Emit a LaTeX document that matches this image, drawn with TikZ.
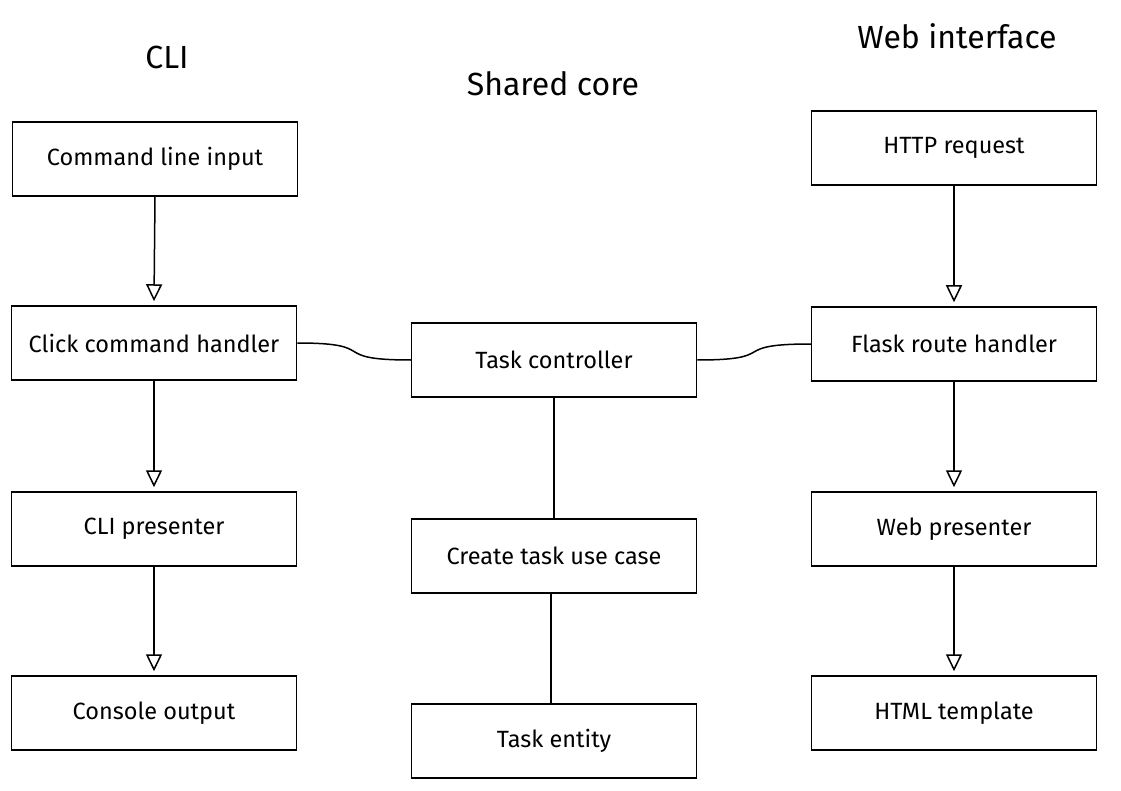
\documentclass[tikz,border=0pt]{standalone}
\usepackage{fontspec}
\setmainfont{Fira Sans}
\usetikzlibrary{arrows.meta}
\tikzset{
  box/.style={draw, line width=1.5pt, minimum width=285pt, minimum height=74pt,
              align=center, font=\fontsize{23.5}{26}\selectfont},
  title/.style={font=\fontsize{32}{36}\selectfont},
  flow/.style={-{Triangle[open, length=17pt, width=16pt, line width=1.5pt]}, line width=1.5pt},
  link/.style={line width=1.5pt}
}
\begin{document}
\begin{tikzpicture}[x=1pt, y=-1pt]
    \useasboundingbox (0,0) rectangle (1121,791);

    % titles
    \node[title] (tcli) at (167, 57)  {CLI};
    \node[title] (tcore) at (553, 84) {Shared core};
    \node[title] (tweb) at (957, 36)  {Web interface};

    % CLI column
    \node[box] (cmd)  at (155, 159) {Command line input};
    \node[box] (clk)  at (154, 343) {Click command handler};
    \node[box] (clip) at (154, 529) {CLI presenter};
    \node[box] (cons) at (154, 713) {Console output};

    % shared core
    \node[box] (ctrl) at (554, 360) {Task controller};
    \node[box] (uc)   at (554, 556) {Create task use case};
    \node[box] (ent)  at (554, 741) {Task entity};

    % web column
    \node[box] (http)  at (954, 148) {HTTP request};
    \node[box] (flask) at (954, 344) {Flask route handler};
    \node[box] (webp)  at (954, 529) {Web presenter};
    \node[box] (html)  at (954, 713) {HTML template};

    \draw[flow] (cmd.south)  -- ([yshift=4pt]clk.north);
    \draw[flow] (clk.south)  -- ([yshift=4pt]clip.north);
    \draw[flow] (clip.south) -- ([yshift=4pt]cons.north);

    \draw[flow] (http.south)  -- ([yshift=4pt]flask.north);
    \draw[flow] (flask.south) -- ([yshift=4pt]webp.north);
    \draw[flow] (webp.south)  -- ([yshift=4pt]html.north);

    \draw[link] (clk.east) .. controls ([xshift=85pt]clk.east) and ([xshift=-85pt]ctrl.west) .. (ctrl.west);
    \draw[link] (flask.west) .. controls ([xshift=-85pt]flask.west) and ([xshift=85pt]ctrl.east) .. (ctrl.east);
    \draw[link] (ctrl.south) -- (uc.north);
    \draw[link] ([xshift=-3pt]uc.south) -- ([xshift=-3pt]ent.north);
  \end{tikzpicture}
\end{document}
